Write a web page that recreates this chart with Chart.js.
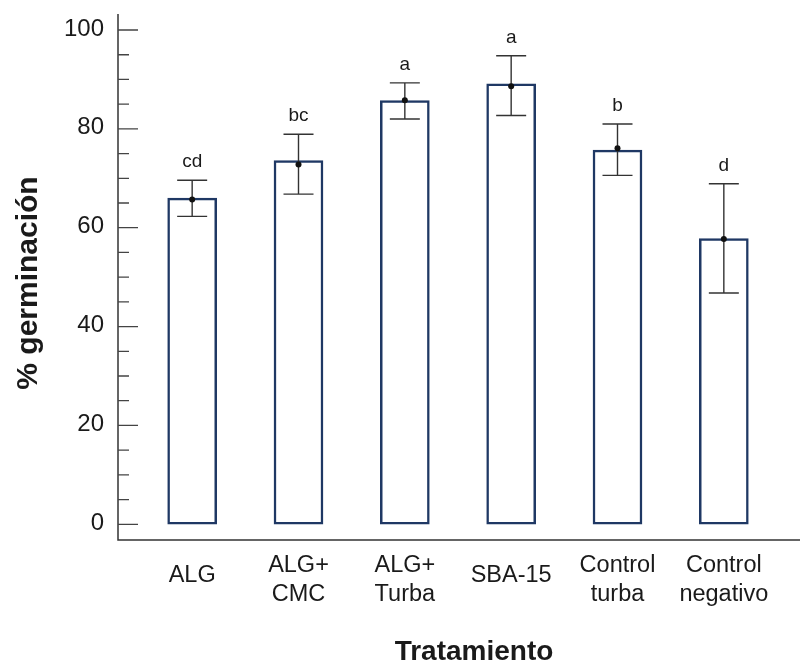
<!DOCTYPE html>
<html>
<head>
<meta charset="utf-8">
<script src="https://cdn.jsdelivr.net/npm/chart.js@4.4.1/dist/chart.umd.min.js"></script>
<style>
  html, body { margin: 0; padding: 0; background: #fff; }
  #wrap { width: 800px; height: 662px; position: relative; }
</style>
</head>
<body>
<div id="wrap"><canvas id="chart"></canvas></div>
<script>
// ---- data ----
const categories = [['ALG'], ['ALG+', 'CMC'], ['ALG+', 'Turba'], ['SBA-15'], ['Control', 'turba'], ['Control', 'negativo']];
const barValues = [66.0, 73.6, 85.7, 89.1, 75.7, 57.8];
const meanValues = [65.7, 72.8, 85.8, 88.6, 76.1, 57.7];
const errUpper = [69.6, 78.9, 89.3, 94.8, 81.0, 68.9];
const errLower = [62.3, 66.8, 82.0, 82.7, 70.6, 46.8];
const letters = ['cd', 'bc', 'a', 'a', 'b', 'd'];
const yMajorTicks = [0, 20, 40, 60, 80, 100];
const yMinorTicks = [5, 10, 15, 25, 30, 35, 45, 50, 55, 65, 70, 75, 85, 90, 95];
const yTitle = '% germinación';
const xTitle = 'Tratamiento';

const FONT = '"Liberation Sans", Arial, sans-serif';
const TEXT = '#1a1a1a';

// Axis lines, ticks, labels, error bars and letters
const decorations = {
    id: 'decorations',
    afterDatasetDraw(chart, args) {
        if (args.index !== 0) return;
        const ctx = chart.ctx;
        const x = chart.scales.x;
        const y = chart.scales.y;
        ctx.save();
        ctx.strokeStyle = '#333';
        ctx.lineWidth = 1.4;
        for (let i = 0; i < categories.length; i++) {
            const cx = x.getPixelForValue(i);
            const top = y.getPixelForValue(errUpper[i]);
            const bot = y.getPixelForValue(errLower[i]);
            ctx.beginPath();
            ctx.moveTo(cx, top); ctx.lineTo(cx, bot);
            ctx.moveTo(cx - 15, top); ctx.lineTo(cx + 15, top);
            ctx.moveTo(cx - 15, bot); ctx.lineTo(cx + 15, bot);
            ctx.stroke();
        }
        ctx.restore();
    },
    afterDraw(chart) {
        const ctx = chart.ctx;
        const area = chart.chartArea;
        const x = chart.scales.x;
        const y = chart.scales.y;
        const axisX = area.left - 21;

        ctx.save();
        // axis lines
        ctx.strokeStyle = '#333';
        ctx.lineWidth = 1.5;
        ctx.beginPath();
        ctx.moveTo(axisX, area.top);
        ctx.lineTo(axisX, area.bottom);
        ctx.lineTo(chart.width, area.bottom);
        ctx.stroke();

        // y ticks (drawn inward)
        ctx.strokeStyle = '#444';
        ctx.lineWidth = 1.3;
        ctx.beginPath();
        yMajorTicks.forEach(v => {
            const py = y.getPixelForValue(v);
            ctx.moveTo(axisX, py); ctx.lineTo(axisX + 20, py);
        });
        yMinorTicks.forEach(v => {
            const py = y.getPixelForValue(v);
            ctx.moveTo(axisX, py); ctx.lineTo(axisX + 11, py);
        });
        ctx.stroke();

        ctx.fillStyle = TEXT;
        ctx.font = '24px ' + FONT;
        ctx.textAlign = 'right';
        ctx.textBaseline = 'middle';
        yMajorTicks.forEach(v => {
            ctx.fillText(String(v), axisX - 14, y.getPixelForValue(v) - 1);
        });

        // x category labels
        ctx.font = '23.5px ' + FONT;
        ctx.textAlign = 'center';
        ctx.textBaseline = 'alphabetic';
        categories.forEach((lines, i) => {
            const cx = x.getPixelForValue(i);
            const base = lines.length === 1 ? area.bottom + 42 : area.bottom + 32;
            lines.forEach((t, j) => ctx.fillText(t, cx, base + j * 29));
        });

        // significance letters
        ctx.font = '19px ' + FONT;
        letters.forEach((t, i) => {
            ctx.fillText(t, x.getPixelForValue(i), y.getPixelForValue(errUpper[i]) - 13);
        });

        // titles
        ctx.font = 'bold 28px ' + FONT;
        ctx.fillText(xTitle, 474, 660);
        ctx.translate(37, 283);
        ctx.rotate(-Math.PI / 2);
        ctx.font = 'bold 30px ' + FONT;
        ctx.fillText(yTitle, 0, 0);
        ctx.restore();
    }
};

new Chart(document.getElementById('chart'), {
    type: 'bar',
    data: {
        labels: categories,
        datasets: [{
            label: 'barras',
            data: barValues,
            backgroundColor: '#ffffff',
            borderColor: '#1f3864',
            borderWidth: 2.5,
            borderSkipped: false,
            barThickness: 49,
            order: 2
        }, {
            type: 'line',
            label: 'media',
            data: meanValues,
            showLine: false,
            pointRadius: 3,
            pointBackgroundColor: '#111',
            pointBorderWidth: 0,
            order: 1
        }]
    },
    options: {
        responsive: true,
        maintainAspectRatio: false,
        animation: false,
        layout: { padding: { left: 139, right: 23, top: 14, bottom: 122 } },
        plugins: {
            legend: { display: false },
            tooltip: { enabled: false }
        },
        scales: {
            x: { display: false },
            y: { display: false, min: -3.18, max: 103.24 }
        }
    },
    plugins: [decorations]
});
</script>
</body>
</html>
